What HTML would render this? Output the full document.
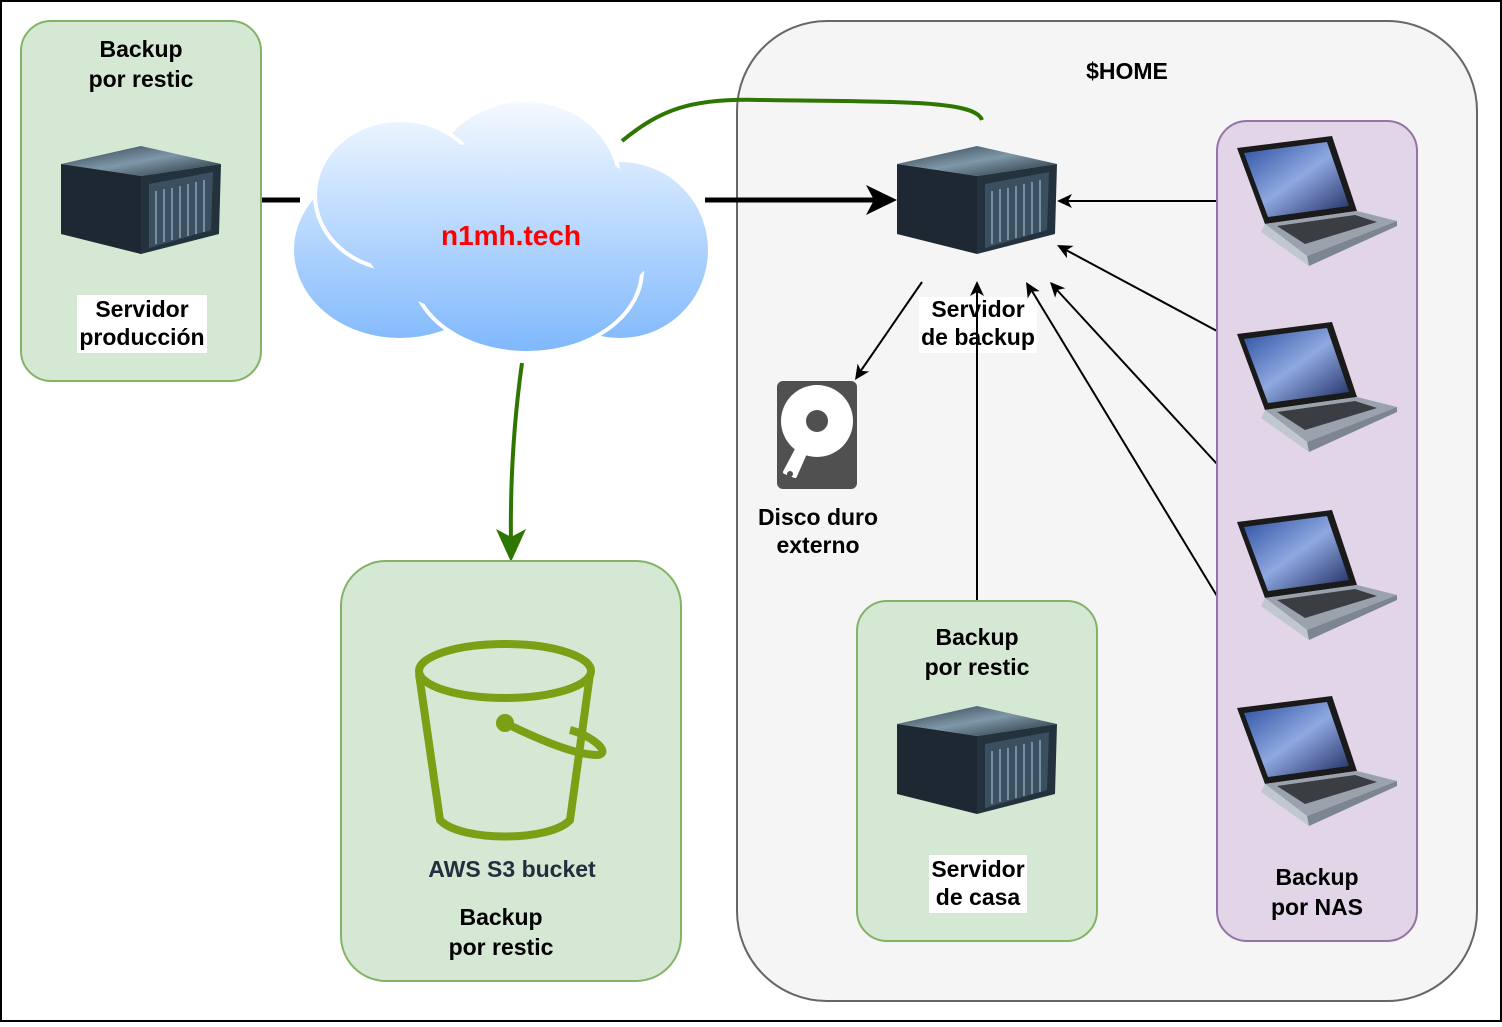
<!DOCTYPE html>
<html><head><meta charset="utf-8"><style>
body{margin:0;background:#fff}
svg text{font-family:"Liberation Sans",sans-serif;font-weight:bold;font-size:23px;text-anchor:middle}
</style></head><body>
<svg width="1502" height="1022" viewBox="0 0 1502 1022" xmlns="http://www.w3.org/2000/svg">
<defs>
<linearGradient id="cg" gradientUnits="userSpaceOnUse" x1="0" y1="95" x2="0" y2="355"><stop offset="0" stop-color="#f7fbff"/><stop offset="1" stop-color="#7db7fc"/></linearGradient>
<linearGradient id="top" x1="0" y1="0" x2="1" y2="1"><stop offset="0" stop-color="#2a3a48"/><stop offset="0.5" stop-color="#7f98a8"/><stop offset="1" stop-color="#1e2a34"/></linearGradient>
<linearGradient id="scr" x1="0" y1="0" x2="1" y2="1"><stop offset="0" stop-color="#2b4fa0"/><stop offset="0.5" stop-color="#8fa8e0"/><stop offset="1" stop-color="#1c2a60"/></linearGradient>
<g id="srv">
<polygon points="0,18 80,0 160,18 80,30" fill="url(#top)"/>
<polygon points="0,18 80,30 80,108 0,88" fill="#1d2832"/>
<polygon points="80,30 160,18 158,88 80,108" fill="#24323e"/>
<polygon points="88,38 152,26 150,84 88,102" fill="#3a5060"/>
<g stroke="#8aa3b2" stroke-width="1.5">
<line x1="95" y1="45" x2="95" y2="98"/><line x1="103" y1="43" x2="103" y2="96"/><line x1="111" y1="42" x2="111" y2="94"/><line x1="119" y1="40" x2="119" y2="92"/><line x1="127" y1="38" x2="127" y2="90"/><line x1="135" y1="36" x2="135" y2="88"/><line x1="143" y1="34" x2="143" y2="86"/></g>
</g>
<g id="lap">
<polygon points="0,12 95,0 120,75 28,88" fill="#1a1a1a"/>
<polygon points="7,17 90,6 112,70 31,81" fill="url(#scr)"/>
<polygon points="28,88 120,75 160,85 70,120" fill="#9aa3ad"/>
<polygon points="40,90 118,79 140,86 68,108" fill="#3a3d42"/>
<polygon points="28,88 70,120 72,130 24,96" fill="#c0c7ce"/>
<polygon points="70,120 160,85 160,90 72,130" fill="#7d8690"/>
</g>
</defs>
<rect x="1" y="1" width="1500" height="1020" fill="#fff" stroke="#000" stroke-width="2"/>
<rect x="737" y="21" width="740" height="980" rx="90" fill="#f5f5f5" stroke="#666" stroke-width="2"/>
<text x="1127" y="79">$HOME</text>
<rect x="21" y="21" width="240" height="360" rx="30" fill="#d5e8d4" stroke="#82b366" stroke-width="2"/>
<text x="141" y="57">Backup</text><text x="141" y="87">por restic</text>
<use href="#srv" x="61" y="146"/>
<rect x="77" y="295" width="130" height="58" fill="#fff"/>
<text x="142" y="317">Servidor</text><text x="142" y="345">producción</text>
<line x1="262" y1="200" x2="300" y2="200" stroke="#000" stroke-width="5"/>
<line x1="705" y1="200" x2="880" y2="200" stroke="#000" stroke-width="5"/>
<path d="M897,200 L866,185 L874,200 L866,215Z" fill="#000"/>
<g fill="url(#cg)" stroke="#fff" stroke-width="4">
<ellipse cx="400" cy="250" rx="108" ry="90"/>
<ellipse cx="620" cy="250" rx="90" ry="90"/>
<ellipse cx="525" cy="185" rx="95" ry="85"/>
<ellipse cx="400" cy="195" rx="85" ry="75"/>
<ellipse cx="527" cy="270" rx="115" ry="83"/>
</g>
<ellipse cx="510" cy="230" rx="150" ry="90" fill="url(#cg)"/>
<text x="511" y="245" fill="#f00" style="font-size:28px">n1mh.tech</text>
<path d="M622,141 C660,110 690,98 760,100 C900,102 975,100 982,120" fill="none" stroke="#2d7600" stroke-width="4"/>
<path d="M522,363 C514,420 510,480 511,545" fill="none" stroke="#2d7600" stroke-width="4"/>
<path d="M511,562 L496,529 L511,537 L526,529Z" fill="#2d7600"/>
<rect x="341" y="561" width="340" height="420" rx="45" fill="#d5e8d4" stroke="#82b366" stroke-width="2"/>
<g fill="none" stroke="#7aa116" stroke-width="8">
<ellipse cx="505" cy="671" rx="86" ry="27"/>
<path d="M419,674 L440,820 C460,842 550,842 570,820 L590,674"/>
<path d="M505,723 C540,740 575,755 598,755 C612,752 590,735 570,730"/>
</g>
<circle cx="505" cy="723" r="9" fill="#7aa116"/>
<text x="512" y="877" fill="#232f3e">AWS S3 bucket</text>
<text x="501" y="925">Backup</text><text x="501" y="955">por restic</text>
<use href="#srv" x="897" y="146"/>
<rect x="919" y="297" width="118" height="56" fill="#fff"/>
<text x="978" y="317">Servidor</text><text x="978" y="345">de backup</text>
<g stroke="#000" stroke-width="2">
<line x1="922" y1="282" x2="860" y2="372"/>
<line x1="977" y1="600" x2="977" y2="292"/>
<line x1="1217" y1="201" x2="1068" y2="201"/>
<line x1="1217" y1="331" x2="1066" y2="250"/>
<line x1="1217" y1="464" x2="1057" y2="290"/>
<line x1="1217" y1="596" x2="1032" y2="291"/>
</g>
<g fill="#000">
<path d="M0,0 L-15,-7 L-11,0 L-15,7Z" transform="translate(855,380) rotate(124)"/>
<path d="M0,0 L-15,-7 L-11,0 L-15,7Z" transform="translate(977,281) rotate(-90)"/>
<path d="M0,0 L-15,-7 L-11,0 L-15,7Z" transform="translate(1057,201) rotate(180)"/>
<path d="M0,0 L-15,-7 L-11,0 L-15,7Z" transform="translate(1057,245) rotate(208)"/>
<path d="M0,0 L-15,-7 L-11,0 L-15,7Z" transform="translate(1050,282) rotate(227)"/>
<path d="M0,0 L-15,-7 L-11,0 L-15,7Z" transform="translate(1026,282) rotate(239)"/>
</g>
<rect x="777" y="381" width="80" height="108" rx="6" fill="#505050"/>
<circle cx="817" cy="421" r="36" fill="#fff"/>
<circle cx="817" cy="421" r="11" fill="#505050"/>
<path d="M785,472 L803,438 L810,442 L795,476 Z" fill="#fff" stroke="#fff" stroke-width="4" stroke-linejoin="round"/>
<circle cx="790" cy="474" r="3" fill="#505050"/>
<text x="818" y="525">Disco duro</text><text x="818" y="553">externo</text>
<rect x="857" y="601" width="240" height="340" rx="30" fill="#d5e8d4" stroke="#82b366" stroke-width="2"/>
<text x="977" y="645">Backup</text><text x="977" y="675">por restic</text>
<use href="#srv" x="897" y="706"/>
<rect x="929" y="855" width="98" height="58" fill="#fff"/>
<text x="978" y="877">Servidor</text><text x="978" y="905">de casa</text>
<rect x="1217" y="121" width="200" height="820" rx="30" fill="#e1d5e7" stroke="#9673a6" stroke-width="2"/>
<use href="#lap" x="1237" y="136"/>
<use href="#lap" x="1237" y="322"/>
<use href="#lap" x="1237" y="510"/>
<use href="#lap" x="1237" y="696"/>
<text x="1317" y="885">Backup</text><text x="1317" y="915">por NAS</text>
</svg>
</body></html>
